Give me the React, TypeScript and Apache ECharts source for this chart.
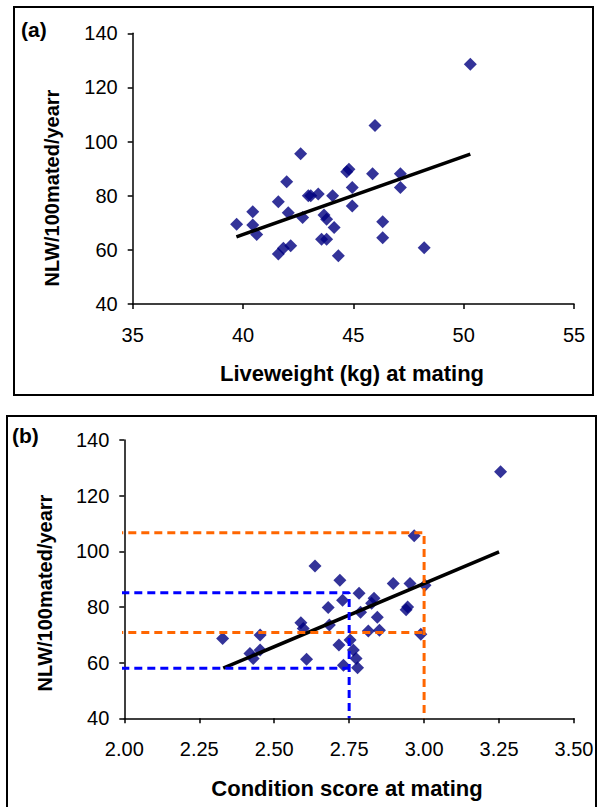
import React, { useEffect, useRef } from "react";
import * as echarts from "echarts";

// Panel (a): liveweight at mating vs NLW/100 mated/year
const lwX = [39.71, 40.44, 40.44, 40.62, 41.6, 41.98, 42.05, 41.6, 41.83, 42.16, 42.61, 42.7, 42.96, 43.07, 43.41, 43.56, 43.79, 43.67, 43.79, 44.13, 44.06, 44.32, 44.7, 44.8, 44.95, 44.95, 45.87, 45.98, 46.33, 46.33, 47.13, 47.13, 48.21, 50.3];
const lwY = [69.5, 74.1, 69.2, 65.7, 77.8, 85.2, 73.7, 58.5, 60.6, 61.5, 95.5, 72.0, 80.0, 80.0, 80.6, 63.9, 63.9, 72.9, 71.3, 68.3, 80.0, 57.8, 88.9, 89.8, 83.0, 76.2, 88.1, 105.9, 70.4, 64.5, 88.1, 83.0, 60.8, 128.6];
const lwTrendX = [39.7, 50.3];
const lwTrendY = [64.8, 95.4];

// Panel (b): condition score at mating vs NLW/100 mated/year
const csX = [2.328, 2.453, 2.419, 2.43, 2.453, 2.589, 2.597, 2.608, 2.636, 2.68, 2.684, 2.719, 2.728, 2.716, 2.731, 2.753, 2.764, 2.773, 2.778, 2.783, 2.788, 2.825, 2.833, 2.844, 2.814, 2.851, 2.897, 2.953, 2.945, 2.94, 3.003, 2.989, 2.967, 3.255];
const csY = [68.7, 69.9, 63.3, 61.5, 64.5, 74.3, 72.3, 61.2, 94.7, 79.8, 73.5, 89.6, 82.4, 66.3, 59.1, 68.1, 64.5, 61.5, 58.2, 84.9, 78.1, 81.3, 83.1, 76.3, 71.4, 71.6, 88.4, 88.4, 80.0, 79.0, 87.8, 70.2, 105.6, 128.6];
const csTrendX = [2.33, 3.25];
const csTrendY = [58.0, 99.8];

// Guide lines (orange: score 3.00, blue: score 2.75)
const orangeScore = 3.0;
const orangeLevels = [106.7, 70.8];
const blueScore = 2.75;
const blueLevels = [85.1, 58.0];

const yTicks = { min: 40, max: 140, interval: 20 };
const lwAxis = { min: 35, max: 55, interval: 5 };
const csAxis = { min: 2.0, max: 3.5, interval: 0.25 };

const FONT = "'Liberation Sans', Arial, sans-serif";
const NAVY = "#000080";
const ORANGE = "#FF6600";
const BLUE = "#0000FF";

const axisCommon = {
  axisLine: { show: true, onZero: false, lineStyle: { color: "#000", width: 1.5 } },
  axisTick: { show: true, inside: false, length: 5, lineStyle: { color: "#000", width: 1.5 } },
  splitLine: { show: false },
  showMinLabel: true,
  showMaxLabel: true,
};

export default function App() {
  const ref = useRef<HTMLDivElement>(null);

  useEffect(() => {
    if (!ref.current) return;
    const chart = echarts.init(ref.current, null, { renderer: "svg" });

    const lwPts = lwX.map((x, i) => [x, lwY[i]]);
    const csPts = csX.map((x, i) => [x, csY[i]]);
    const lwTrend = lwTrendX.map((x, i) => [x, lwTrendY[i]]);
    const csTrend = csTrendX.map((x, i) => [x, csTrendY[i]]);

    const dashStyle = (color: string) => ({ color, width: 3, type: [8, 5] as any });

    const option: any = {
      animation: false,
      backgroundColor: "#fff",
      grid: [
        { left: 132.7, top: 33.3, width: 441.3, height: 270.7 },
        { left: 124.3, top: 440, width: 449.7, height: 278.3 },
      ],
      xAxis: [
        {
          ...axisCommon,
          gridIndex: 0,
          type: "value",
          min: lwAxis.min,
          max: lwAxis.max,
          interval: lwAxis.interval,
          axisLabel: { color: "#000", fontSize: 20, fontFamily: FONT, margin: 21 },
        },
        {
          ...axisCommon,
          gridIndex: 1,
          type: "value",
          min: csAxis.min,
          max: csAxis.max,
          interval: csAxis.interval,
          axisLabel: {
            color: "#000",
            fontSize: 20,
            fontFamily: FONT,
            margin: 21,
            formatter: (v: number) => v.toFixed(2),
          },
        },
      ],
      yAxis: [
        {
          ...axisCommon,
          gridIndex: 0,
          type: "value",
          min: yTicks.min,
          max: yTicks.max,
          interval: yTicks.interval,
          axisLabel: { color: "#000", fontSize: 20, fontFamily: FONT, margin: 15 },
        },
        {
          ...axisCommon,
          gridIndex: 1,
          type: "value",
          min: yTicks.min,
          max: yTicks.max,
          interval: yTicks.interval,
          axisLabel: { color: "#000", fontSize: 20, fontFamily: FONT, margin: 15 },
        },
      ],
      series: [
        {
          type: "scatter",
          xAxisIndex: 0,
          yAxisIndex: 0,
          data: lwPts,
          symbol: "diamond",
          symbolSize: 13,
          itemStyle: { color: NAVY },
          z: 2,
        },
        {
          type: "line",
          xAxisIndex: 0,
          yAxisIndex: 0,
          data: lwTrend,
          symbol: "none",
          lineStyle: { color: "#000", width: 3.5 },
          z: 3,
        },
        {
          type: "scatter",
          xAxisIndex: 1,
          yAxisIndex: 1,
          data: csPts,
          symbol: "diamond",
          symbolSize: 13,
          itemStyle: { color: NAVY },
          z: 2,
        },
        {
          type: "line",
          xAxisIndex: 1,
          yAxisIndex: 1,
          data: csTrend,
          symbol: "none",
          lineStyle: { color: "#000", width: 3.5 },
          z: 3,
        },
        {
          type: "line",
          xAxisIndex: 1,
          yAxisIndex: 1,
          clip: false,
          data: [
            [1.97, orangeLevels[0]],
            [orangeScore, orangeLevels[0]],
            [orangeScore, yTicks.min],
          ],
          symbol: "none",
          lineStyle: dashStyle(ORANGE),
          z: 4,
        },
        {
          type: "line",
          xAxisIndex: 1,
          yAxisIndex: 1,
          clip: false,
          data: [
            [1.97, orangeLevels[1]],
            [orangeScore, orangeLevels[1]],
          ],
          symbol: "none",
          lineStyle: dashStyle(ORANGE),
          z: 4,
        },
        {
          type: "line",
          xAxisIndex: 1,
          yAxisIndex: 1,
          clip: false,
          data: [
            [1.99, blueLevels[0]],
            [blueScore, blueLevels[0]],
            [blueScore, yTicks.min],
          ],
          symbol: "none",
          lineStyle: dashStyle(BLUE),
          z: 4,
        },
        {
          type: "line",
          xAxisIndex: 1,
          yAxisIndex: 1,
          clip: false,
          data: [
            [1.99, blueLevels[1]],
            [blueScore, blueLevels[1]],
          ],
          symbol: "none",
          lineStyle: dashStyle(BLUE),
          z: 4,
        },
      ],
      graphic: [
        {
          type: "rect",
          shape: { x: 14, y: 7, width: 579, height: 388 },
          style: { fill: "none", stroke: "#000", lineWidth: 2 },
          silent: true,
        },
        {
          type: "rect",
          shape: { x: 7, y: 416, width: 589, height: 400 },
          style: { fill: "none", stroke: "#000", lineWidth: 2 },
          silent: true,
        },
        {
          type: "text",
          x: 21,
          y: 29,
          style: { text: "(a)", font: `bold 21px ${FONT}`, fill: "#000", textVerticalAlign: "middle" },
        },
        {
          type: "text",
          x: 12,
          y: 435,
          style: { text: "(b)", font: `bold 21px ${FONT}`, fill: "#000", textVerticalAlign: "middle" },
        },
        {
          type: "text",
          x: 52,
          y: 188,
          rotation: Math.PI / 2,
          style: {
            text: "NLW/100mated/yearr",
            font: `bold 20px ${FONT}`,
            fill: "#000",
            textAlign: "center",
            textVerticalAlign: "middle",
          },
        },
        {
          type: "text",
          x: 45,
          y: 593,
          rotation: Math.PI / 2,
          style: {
            text: "NLW/100mated/yearr",
            font: `bold 20px ${FONT}`,
            fill: "#000",
            textAlign: "center",
            textVerticalAlign: "middle",
          },
        },
        {
          type: "text",
          x: 352,
          y: 373,
          style: {
            text: "Liveweight (kg) at mating",
            font: `bold 22px ${FONT}`,
            fill: "#000",
            textAlign: "center",
            textVerticalAlign: "middle",
          },
        },
        {
          type: "text",
          x: 347,
          y: 788,
          style: {
            text: "Condition score at mating",
            font: `bold 22px ${FONT}`,
            fill: "#000",
            textAlign: "center",
            textVerticalAlign: "middle",
          },
        },
      ],
    };

    chart.setOption(option);
    return () => chart.dispose();
  }, []);

  return (
    <div
      ref={ref}
      style={{ position: "fixed", left: 0, top: 0, width: 597, height: 807, background: "#fff" }}
    />
  );
}
